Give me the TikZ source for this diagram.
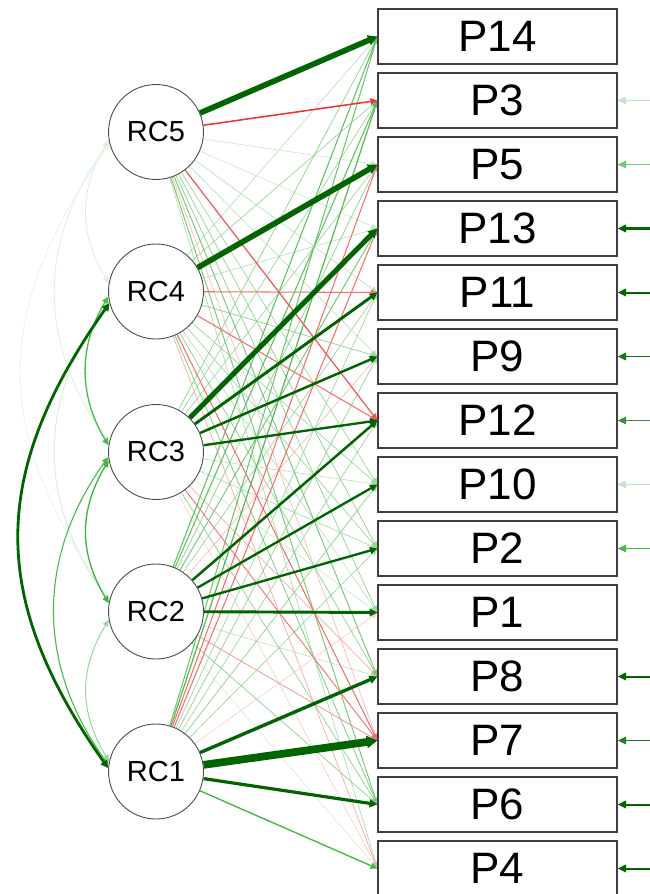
\documentclass[tikz,border=0pt]{standalone}
\usepackage{fontspec}
\setmainfont{Liberation Sans}
\usetikzlibrary{arrows.meta}
\definecolor{gstrong}{RGB}{0,100,0}
\definecolor{gweak}{RGB}{0,153,0}
\definecolor{rstrong}{RGB}{191,0,0}
\definecolor{rweak}{RGB}{235,0,0}
\pgfdeclarelayer{bg}
\pgfsetlayers{bg,main}
\tikzset{
  lat/.style={circle, draw=black!70, line width=0.9pt, fill=white, minimum size=95pt, inner sep=0pt, font=\fontsize{29}{30}\selectfont},
  man/.style={rectangle, draw=black!75, line width=1.2pt, fill=white, minimum width=239pt, minimum height=55pt, inner sep=0pt, font=\fontsize{44}{45}\selectfont},
  tip/.style={-{Triangle[length=6pt 0.6,width=5pt 0.9]}},
  rtip/.style={-{Triangle[length=8.5pt,width=7.5pt]}},
  cov/.style={{Triangle[length=6pt 0.6,width=5pt 0.9]}-{Triangle[length=6pt 0.6,width=5pt 0.9]}},
}
\begin{document}
\begin{tikzpicture}[x=1pt,y=-1pt]
\useasboundingbox (0,0) rectangle (649,894);
% latent nodes
\node[lat] (RC5) at (156,132) {RC5};
\node[lat] (RC4) at (156,291.5) {RC4};
\node[lat] (RC3) at (156,452) {RC3};
\node[lat] (RC2) at (156,611.5) {RC2};
\node[lat] (RC1) at (156,771.5) {RC1};
% manifest nodes
\foreach \n [count=\k from 0] in {P14,P3,P5,P13,P11,P9,P12,P10,P2,P1,P8,P7,P6,P4}
  \node[man] (\n) at (497.5,36.5+64*\k) {\n};
\begin{pgfonlayer}{bg}
\fill[white] (0,0) rectangle (649,894);
% weak loadings
\foreach \ra/\pb/\sg/\st in {
 5/P5/g/0.12, 5/P13/g/0.12, 3/P1/g/0.12, 3/P4/r/0.12, 1/P1/r/0.12, 2/P4/g/0.1,
 5/P11/g/0.15, 5/P9/g/0.15, 5/P7/r/0.15, 4/P14/g/0.15, 4/P13/g/0.15, 4/P1/g/0.15, 3/P10/g/0.15, 2/P9/r/0.15, 2/P8/g/0.15,
 5/P4/g/0.18, 4/P4/r/0.18, 3/P2/g/0.18, 3/P8/r/0.18,
 5/P10/g/0.2, 4/P3/g/0.2, 4/P10/g/0.2, 4/P2/g/0.2, 3/P3/g/0.2, 3/P5/g/0.2, 2/P11/g/0.2, 1/P11/g/0.2, 1/P12/g/0.2, 1/P2/g/0.2,
 5/P2/g/0.22, 5/P1/g/0.22, 4/P9/g/0.22, 4/P8/g/0.22, 3/P14/g/0.22, 3/P6/g/0.22, 2/P5/g/0.22, 2/P7/r/0.22, 2/P6/g/0.22, 1/P9/g/0.22, 1/P10/g/0.22,
 4/P6/g/0.25,
 5/P8/g/0.28, 5/P6/g/0.28, 3/P7/r/0.28, 2/P13/g/0.28,
 4/P11/r/0.3, 4/P12/r/0.3, 4/P7/r/0.3, 1/P14/g/0.3, 1/P5/r/0.3, 1/P13/r/0.3,
 2/P14/g/0.32, 2/P3/g/0.32,
 5/P12/r/0.35, 1/P3/g/0.35,
 1/P4/g/0.38, 5/P3/r/0.42}{
  \pgfmathsetmacro\ew{0.5+6*\st*\st}
  \pgfmathtruncatemacro\ei{min(100,190*\st)}
  \edef\ecol{\sg weak!\ei!white}
  \draw[tip, line width=\ew pt, draw=\ecol] (RC\ra) -- (\pb.west);
}
% strong loadings
\foreach \ra/\pb/\sg/\st in {
 2/P10/g/0.48, 2/P2/g/0.48, 2/P12/g/0.5, 3/P9/g/0.5, 3/P12/g/0.48, 3/P11/g/0.55, 2/P1/g/0.55,
 1/P6/g/0.58, 1/P8/g/0.6, 3/P13/g/0.75, 5/P14/g/0.8, 4/P5/g/0.8, 1/P7/g/0.95}{
  \pgfmathsetmacro\ew{0.5+8*\st*\st}
  \edef\ecol{\sg strong}
  \draw[tip, line width=\ew pt, draw=\ecol] (RC\ra) -- (\pb.west);
}
% covariances
\draw[cov, line width=0.8pt, draw=gweak!15!white] (RC5.190) .. controls +(-30,50) and +(-30,-50) .. (RC4.170);
\draw[cov, line width=0.8pt, draw=gweak!14!white] (RC5.192) .. controls +(-72,100) and +(-72,-100) .. (RC3.168);
\draw[cov, line width=0.8pt, draw=gweak!10!white] (RC5.194) .. controls +(-118,170) and +(-118,-170) .. (RC2.166);
\draw[cov, line width=0.8pt, draw=gweak!18!white] (RC4.192) .. controls +(-72,100) and +(-72,-100) .. (RC2.168);
\draw[cov, line width=1.3pt, draw=gweak!70!white] (RC4.186) .. controls +(-30,50) and +(-30,-50) .. (RC3.172);
\draw[cov, line width=1.3pt, draw=gweak!75!white] (RC3.190) .. controls +(-30,50) and +(-30,-50) .. (RC2.170);
\draw[cov, line width=1.1pt, draw=gweak!70!white] (RC3.186) .. controls +(-72,100) and +(-72,-100) .. (RC1.172);
\draw[cov, line width=1pt, draw=gweak!40!white] (RC2.190) .. controls +(-30,50) and +(-30,-50) .. (RC1.168);
\draw[cov, line width=2.8pt, draw=gstrong] (RC4.194) .. controls +(-120,170) and +(-120,-170) .. (RC1.176);
% residuals
\foreach \n/\rc/\w in {P3/gweak!25!white/1, P5/gweak!55!white/1.1, P13/gstrong/2.2, P11/gstrong/2, P9/gstrong!90!white/1.8, P12/gstrong!75!white/1.5, P10/gweak!25!white/1, P2/gweak!70!white/1.1, P8/gstrong/2, P7/gstrong!85!white/1.7, P6/gstrong/2, P4/gstrong/2}{
  \path (\n.east) ++(40,0) coordinate (r\n);
  \draw[rtip, line width=\w pt, draw=\rc] (r\n) -- (\n.east);
}
\end{pgfonlayer}
\end{tikzpicture}
\end{document}
